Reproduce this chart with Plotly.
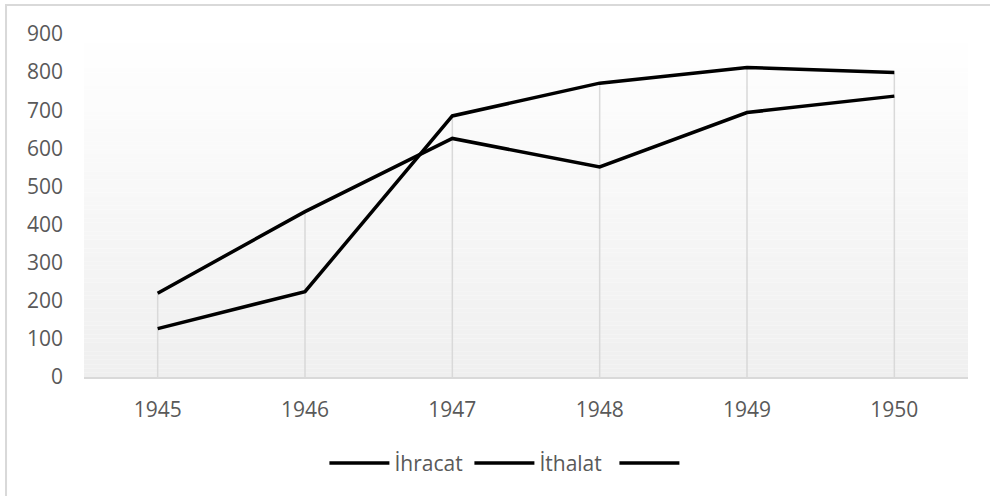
import plotly.graph_objects as go

years = ["1945", "1946", "1947", "1948", "1949", "1950"]
ihracat = [220, 434, 626, 551, 694, 737]
ithalat = [127, 224, 685, 771, 812, 799]
y_ticks = [0, 100, 200, 300, 400, 500, 600, 700, 800, 900]

FONT = "Open Sans"
GRAY = "#595959"
GRID = "#d9d9d9"

fig = go.Figure()

# drop lines from axis to the highest point of each category
dx, dy = [], []
for i, yr in enumerate(years):
    dx += [yr, yr, None]
    dy += [0, max(ihracat[i], ithalat[i]), None]
fig.add_trace(go.Scatter(x=dx, y=dy, mode="lines", line=dict(color=GRID, width=1.5),
                         showlegend=False, hoverinfo="skip"))

fig.add_trace(go.Scatter(x=years, y=ihracat, name="İhracat", mode="lines",
                         line=dict(color="black", width=3.5)))
fig.add_trace(go.Scatter(x=years, y=ithalat, name="İthalat", mode="lines",
                         line=dict(color="black", width=3.5)))
fig.add_trace(go.Scatter(x=[None], y=[None], name="", mode="lines",
                         line=dict(color="black", width=3.5)))

# vertical gradient background for plot area
shapes = []
n = 80
for k in range(n):
    t = (k + 0.5) / n  # 0 at bottom, 1 at top
    c = int(round(239 + (255 - 239) * t))
    shapes.append(dict(type="rect", xref="x domain", yref="y domain",
                       x0=0, x1=1, y0=k / n, y1=(k + 1) / n,
                       fillcolor=f"rgb({c},{c},{c})", line=dict(width=0), layer="below"))
# outer chart border
shapes.append(dict(type="rect", xref="paper", yref="paper",
                   x0=-0.0882, x1=1.05, y0=-0.4, y1=1.0845,
                   line=dict(color=GRID, width=2), fillcolor="rgba(0,0,0,0)", layer="below"))

fig.update_layout(
    width=990, height=496,
    margin=dict(l=84, r=22, t=34, b=119),
    paper_bgcolor="white", plot_bgcolor="rgba(0,0,0,0)",
    font=dict(family=FONT, size=21, color=GRAY),
    shapes=shapes,
    showlegend=True,
    legend=dict(orientation="h", x=0.518, xanchor="center", y=-0.252, yanchor="middle",
                font=dict(family=FONT, size=21, color=GRAY), itemwidth=60,
                entrywidth=70, entrywidthmode="pixels",
                bgcolor="rgba(0,0,0,0)"),
    xaxis=dict(type="category", range=[-0.5, 5.5], showgrid=False, zeroline=False,
               showline=True, linecolor=GRID, linewidth=1.5, ticks="",
               ticklabelstandoff=13, tickfont=dict(family=FONT, size=21, color=GRAY)),
    yaxis=dict(range=[0, 900], tickvals=y_ticks, showgrid=False, zeroline=False,
               showline=False, ticks="", ticklabelstandoff=20,
               tickfont=dict(family=FONT, size=21, color=GRAY)),
)

fig.write_html("out.html", config={"displayModeBar": False},
               post_script="document.body.style.margin='0px';document.body.style.overflow='hidden';")
